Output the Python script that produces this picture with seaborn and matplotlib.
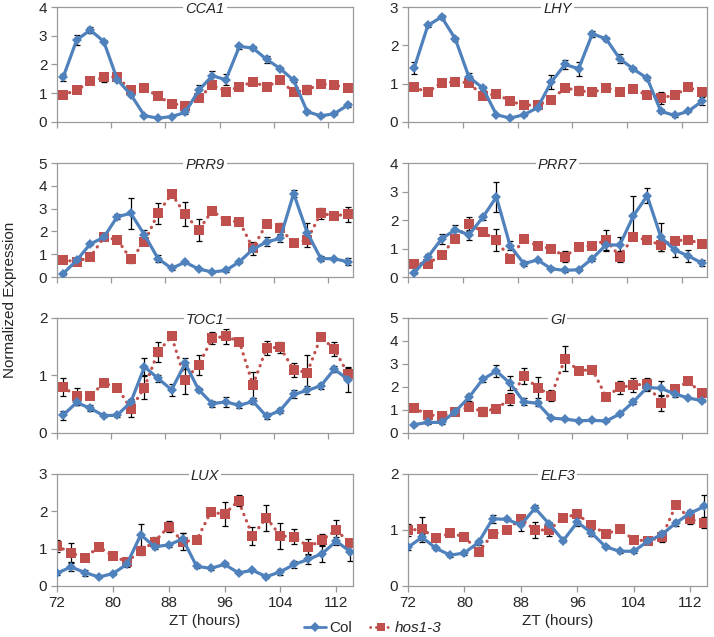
import numpy as np
import pandas as pd
import matplotlib
matplotlib.use("Agg")
import matplotlib.pyplot as plt
import seaborn as sns

sns.set_style("white")
plt.rcParams['font.family'] = ['Liberation Sans', 'DejaVu Sans']

# Thời điểm lấy mẫu (ZT, giờ)
zt = np.arange(72, 115, 2)

genes = ["CCA1", "LHY", "PRR9", "PRR7", "TOC1", "GI", "LUX", "ELF3"]
ymax = [4, 3, 5, 4, 2, 5, 3, 2]

# Col
col_cca1 = [1.55, 2.85, 3.2, 2.8, 1.47, 0.95, 0.22, 0.13, 0.19, 0.33, 1.1, 1.61, 1.47, 2.63, 2.57, 2.18, 1.86, 1.45, 0.36, 0.21, 0.29, 0.59]
col_lhy = [1.41, 2.52, 2.74, 2.17, 1.17, 0.89, 0.19, 0.1, 0.19, 0.37, 1.04, 1.5, 1.39, 2.3, 2.17, 1.65, 1.38, 1.14, 0.28, 0.17, 0.28, 0.54]
col_prr9 = [0.15, 0.73, 1.45, 1.74, 2.65, 2.79, 1.85, 0.81, 0.38, 0.65, 0.35, 0.22, 0.29, 0.67, 1.22, 1.54, 1.69, 3.66, 1.95, 0.81, 0.8, 0.67]
col_prr7 = [0.14, 0.7, 1.34, 1.66, 1.48, 2.09, 2.81, 1.1, 0.47, 0.6, 0.29, 0.23, 0.26, 0.65, 1.13, 1.12, 2.15, 2.85, 1.4, 0.95, 0.74, 0.49]
col_toc1 = [0.31, 0.53, 0.43, 0.3, 0.31, 0.54, 1.15, 0.95, 0.75, 1.21, 0.75, 0.51, 0.54, 0.48, 0.55, 0.29, 0.39, 0.67, 0.74, 0.82, 1.11, 0.93]
col_gi = [0.36, 0.46, 0.46, 0.93, 1.55, 2.33, 2.69, 2.16, 1.36, 1.29, 0.65, 0.6, 0.53, 0.55, 0.52, 0.82, 1.36, 1.98, 1.94, 1.7, 1.52, 1.41]
col_lux = [0.34, 0.51, 0.36, 0.24, 0.33, 0.58, 1.37, 1.05, 1.1, 1.26, 0.53, 0.47, 0.58, 0.35, 0.42, 0.25, 0.38, 0.58, 0.71, 0.87, 1.2, 0.92]
col_elf3 = [0.69, 0.87, 0.67, 0.55, 0.59, 0.78, 1.2, 1.19, 1.09, 1.39, 1.11, 0.81, 1.14, 0.95, 0.7, 0.62, 0.62, 0.8, 0.92, 1.13, 1.3, 1.42]

# hos1-3
hos_cca1 = [0.95, 1.1, 1.41, 1.55, 1.57, 1.1, 1.19, 0.89, 0.64, 0.57, 0.82, 1.28, 1.06, 1.22, 1.4, 1.22, 1.46, 1.03, 1.12, 1.32, 1.28, 1.18]
hos_lhy = [0.9, 0.78, 1.03, 1.04, 1.03, 0.67, 0.74, 0.54, 0.44, 0.44, 0.58, 0.89, 0.82, 0.77, 0.89, 0.79, 0.86, 0.7, 0.63, 0.7, 0.9, 0.79]
hos_prr9 = [0.74, 0.68, 0.87, 1.74, 1.64, 0.78, 1.53, 2.79, 3.65, 2.75, 2.06, 2.91, 2.46, 2.43, 1.26, 2.34, 2.14, 1.48, 1.63, 2.79, 2.69, 2.75]
hos_prr7 = [0.47, 0.47, 0.78, 1.35, 1.86, 1.59, 1.29, 0.64, 1.33, 1.09, 1.0, 0.72, 1.06, 1.09, 1.3, 0.72, 1.41, 1.3, 1.12, 1.28, 1.3, 1.17]
hos_toc1 = [0.8, 0.64, 0.64, 0.87, 0.79, 0.42, 0.79, 1.41, 1.68, 0.93, 1.18, 1.65, 1.68, 1.59, 0.83, 1.48, 1.49, 1.1, 1.05, 1.67, 1.46, 1.03]
hos_gi = [1.08, 0.8, 0.72, 0.93, 1.13, 0.93, 1.06, 1.47, 2.47, 1.97, 1.62, 3.23, 2.7, 2.76, 1.58, 1.98, 2.08, 2.13, 1.32, 1.9, 2.24, 1.72]
hos_lux = [1.07, 0.89, 0.75, 1.05, 0.8, 0.65, 0.94, 1.19, 1.59, 1.19, 1.23, 1.97, 1.93, 2.28, 1.34, 1.83, 1.34, 1.32, 1.05, 1.23, 1.5, 1.14]
hos_elf3 = [1.0, 1.01, 0.86, 0.94, 0.88, 0.61, 0.92, 1.0, 1.2, 1.0, 1.0, 1.22, 1.28, 1.09, 0.93, 1.01, 0.83, 0.8, 0.88, 1.45, 1.19, 1.13]

# Sai số (SE)
col_cca1_err = [0.12, 0.18, 0.1, 0.05, 0.05, 0.05, 0.03, 0.03, 0.03, 0.05, 0.2, 0.15, 0.2, 0.08, 0.06, 0.12, 0.05, 0.05, 0.05, 0.03, 0.03, 0.08]
col_lhy_err = [0.15, 0.05, 0.05, 0.05, 0.1, 0.06, 0.03, 0.03, 0.03, 0.03, 0.18, 0.12, 0.18, 0.08, 0.05, 0.12, 0.05, 0.05, 0.05, 0.03, 0.03, 0.1]
col_prr9_err = [0.05, 0.05, 0.05, 0.05, 0.1, 0.68, 0.2, 0.15, 0.05, 0.05, 0.05, 0.05, 0.05, 0.05, 0.1, 0.2, 0.15, 0.15, 0.4, 0.1, 0.05, 0.15]
col_prr7_err = [0.05, 0.1, 0.18, 0.15, 0.18, 0.08, 0.53, 0.15, 0.08, 0.05, 0.05, 0.05, 0.05, 0.1, 0.2, 0.3, 0.7, 0.27, 0.5, 0.25, 0.2, 0.1]
col_toc1_err = [0.08, 0.05, 0.05, 0.03, 0.03, 0.05, 0.15, 0.06, 0.1, 0.1, 0.04, 0.05, 0.08, 0.04, 0.05, 0.05, 0.05, 0.07, 0.07, 0.05, 0.05, 0.22]
col_gi_err = [0.05, 0.05, 0.05, 0.05, 0.15, 0.1, 0.25, 0.3, 0.15, 0.1, 0.05, 0.05, 0.05, 0.05, 0.05, 0.05, 0.1, 0.15, 0.32, 0.15, 0.05, 0.05]
col_lux_err = [0.05, 0.1, 0.08, 0.03, 0.03, 0.08, 0.3, 0.05, 0.05, 0.15, 0.05, 0.03, 0.05, 0.03, 0.03, 0.03, 0.08, 0.1, 0.12, 0.22, 0.1, 0.25]
col_elf3_err = [0.05, 0.05, 0.03, 0.03, 0.03, 0.05, 0.07, 0.03, 0.1, 0.05, 0.03, 0.03, 0.07, 0.05, 0.03, 0.03, 0.03, 0.05, 0.05, 0.05, 0.05, 0.2]

hos_cca1_err = [0.05, 0.05, 0.05, 0.15, 0.1, 0.05, 0.05, 0.05, 0.05, 0.05, 0.05, 0.08, 0.05, 0.05, 0.05, 0.05, 0.05, 0.05, 0.15, 0.05, 0.05, 0.05]
hos_lhy_err = [0.05, 0.05, 0.05, 0.05, 0.05, 0.05, 0.05, 0.05, 0.05, 0.05, 0.05, 0.05, 0.12, 0.05, 0.05, 0.05, 0.05, 0.05, 0.15, 0.05, 0.05, 0.05]
hos_prr9_err = [0.05, 0.05, 0.05, 0.05, 0.05, 0.15, 0.1, 0.45, 0.05, 0.52, 0.5, 0.05, 0.05, 0.05, 0.28, 0.05, 0.25, 0.05, 0.3, 0.25, 0.05, 0.33]
hos_prr7_err = [0.05, 0.05, 0.05, 0.05, 0.25, 0.05, 0.38, 0.05, 0.05, 0.05, 0.05, 0.2, 0.05, 0.05, 0.35, 0.2, 0.05, 0.05, 0.2, 0.05, 0.05, 0.05]
hos_toc1_err = [0.15, 0.15, 0.05, 0.05, 0.05, 0.15, 0.2, 0.17, 0.05, 0.25, 0.18, 0.1, 0.13, 0.05, 0.23, 0.12, 0.1, 0.12, 0.3, 0.05, 0.12, 0.1]
hos_gi_err = [0.05, 0.05, 0.05, 0.05, 0.1, 0.18, 0.05, 0.25, 0.35, 0.45, 0.25, 0.55, 0.05, 0.05, 0.05, 0.3, 0.3, 0.25, 0.35, 0.05, 0.05, 0.05]
hos_lux_err = [0.15, 0.25, 0.05, 0.05, 0.05, 0.05, 0.1, 0.13, 0.15, 0.23, 0.05, 0.05, 0.32, 0.15, 0.25, 0.35, 0.35, 0.2, 0.2, 0.15, 0.28, 0.05]
hos_elf3_err = [0.1, 0.23, 0.05, 0.05, 0.05, 0.05, 0.05, 0.05, 0.05, 0.14, 0.1, 0.05, 0.05, 0.05, 0.05, 0.05, 0.05, 0.05, 0.1, 0.05, 0.08, 0.1]

col_data = [col_cca1, col_lhy, col_prr9, col_prr7, col_toc1, col_gi, col_lux, col_elf3]
hos_data = [hos_cca1, hos_lhy, hos_prr9, hos_prr7, hos_toc1, hos_gi, hos_lux, hos_elf3]
col_errs = [col_cca1_err, col_lhy_err, col_prr9_err, col_prr7_err, col_toc1_err, col_gi_err, col_lux_err, col_elf3_err]
hos_errs = [hos_cca1_err, hos_lhy_err, hos_prr9_err, hos_prr7_err, hos_toc1_err, hos_gi_err, hos_lux_err, hos_elf3_err]

blue = "#4F81BD"
red = "#C0504D"
spine_c = "#9a9a9a"
dots = (0, (0.1, 2.0))

fig = plt.figure(figsize=(7.14, 6.37), dpi=100)

lefts = [0.0798, 0.5714]
widths = [0.4146, 0.419]
bottoms = [0.8085, 0.5651, 0.3203, 0.0801]
heights = [0.1805, 0.179, 0.1805, 0.1758]

for i, gene in enumerate(genes):
    r, c = divmod(i, 2)
    ax = fig.add_axes([lefts[c], bottoms[r], widths[c], heights[r]])

    df = pd.DataFrame({"ZT": zt, "Col": col_data[i], "hos": hos_data[i]})

    # thanh sai số nằm dưới marker
    ax.errorbar(zt, hos_data[i], yerr=hos_errs[i], fmt="none", ecolor="black",
                elinewidth=0.9, capsize=2.3, capthick=0.9, zorder=1)
    ax.errorbar(zt, col_data[i], yerr=col_errs[i], fmt="none", ecolor="black",
                elinewidth=0.9, capsize=2.3, capthick=0.9, zorder=1)

    # hos1-3 vẽ trước, Col đè lên
    sns.lineplot(data=df, x="ZT", y="hos", ax=ax, color=red, linestyle=dots,
                 linewidth=2.3, dash_capstyle="round", marker="s", markersize=7,
                 markeredgewidth=0, zorder=2)
    sns.lineplot(data=df, x="ZT", y="Col", ax=ax, color=blue, linewidth=2.3,
                 marker="D", markersize=5.5, markeredgewidth=0, zorder=3)

    ax.set_ylim(0, ymax[i])
    ax.set_yticks(np.arange(0, ymax[i] + 1, 1))
    ax.set_ylabel("")

    if r == 3:
        ax.set_xlim(72, 114.4)
        ax.set_xticks([72, 80, 88, 96, 104, 112])
        ax.set_xlabel("ZT (hours)", fontsize=11, labelpad=3)
    else:
        ax.set_xlim(71.1, 114.75)
        ax.set_xticks(np.arange(71.1, 112, 8))
        ax.set_xticklabels([])
        ax.set_xlabel("")

    for s in ax.spines.values():
        s.set_color(spine_c)
        s.set_linewidth(0.9)
    ax.tick_params(axis="both", which="major", length=4, width=0.9, color=spine_c,
                   labelsize=11, pad=3, direction="out", bottom=True, left=True)

    ax.text(0.5, 0.985, gene, transform=ax.transAxes, ha="center", va="center",
            fontsize=10.5, style="italic",
            bbox=dict(facecolor="white", edgecolor="none", pad=1.5), zorder=6)

fig.text(0.014, 0.529, "Normalized Expression", rotation=90, ha="center", va="center", fontsize=11)

handles = [
    plt.Line2D([], [], color=blue, linewidth=2, marker="D", markersize=5, markeredgewidth=0),
    plt.Line2D([], [], color=red, linewidth=2, linestyle=dots, dash_capstyle="round",
               marker="s", markersize=6, markeredgewidth=0),
]
leg = fig.legend(handles, ["Col", "hos1-3"], loc="center", bbox_to_anchor=(0.522, 0.014),
                 ncol=2, frameon=False, fontsize=11, handlelength=1.4, handletextpad=0.2,
                 columnspacing=1.2, borderpad=0)
leg.get_texts()[1].set_fontstyle("italic")

fig.savefig("out.png", dpi=100)
